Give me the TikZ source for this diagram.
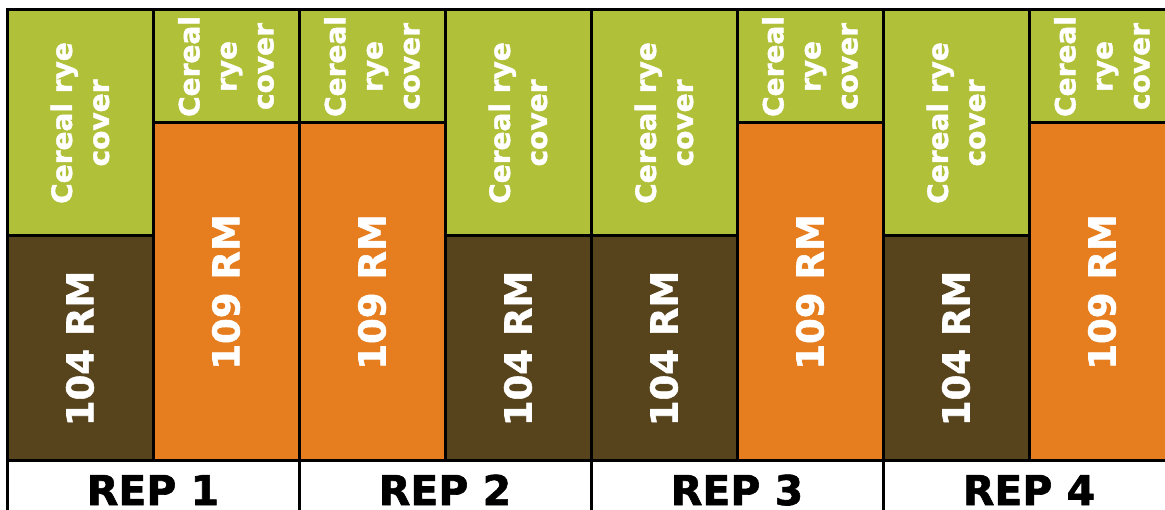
\documentclass[tikz,border=0pt]{standalone}
\usepackage{fontspec}
\setmainfont{DejaVu Sans}[BoldFeatures={FakeBold=1.5}]
\usetikzlibrary{positioning}

\definecolor{ryegreen}{RGB}{176,192,56}
\definecolor{lateorange}{RGB}{230,126,32}
\definecolor{earlybrown}{RGB}{88,68,28}

\tikzset{
  plot/.style={rectangle, draw=black, line width=3pt, anchor=north west,
    minimum width=146pt, inner sep=0, outer sep=0},
  ryetall/.style={plot, fill=ryegreen, minimum height=226pt},
  ryeshort/.style={plot, fill=ryegreen, minimum height=113pt},
  early/.style={plot, fill=earlybrown, minimum height=225pt},
  late/.style={plot, fill=lateorange, minimum height=338pt},
  repcell/.style={plot, fill=white, minimum width=292pt, minimum height=80pt},
  ryelabel/.style={rotate=90, text=white, align=center,
    font=\bfseries\fontsize{28}{37}\selectfont},
  croplabel/.style={rotate=90, text=white,
    font=\bfseries\fontsize{37}{44}\selectfont},
  replabel/.style={anchor=base, text=black,
    font=\bfseries\fontsize{41}{48}\selectfont}
}

\begin{document}
\begin{tikzpicture}[x=1pt, y=-1pt]
  \path[use as bounding box] (0,0) rectangle (1165,510);
  \clip (0,0) rectangle (1165,510);

  % cover crop strips
  \node[ryetall] (rye1) at (7,10) {};
  \node[ryeshort] (rye2) at (rye1.north east) {};
  \node[ryeshort] (rye3) at (rye2.north east) {};
  \node[ryetall] (rye4) at (rye3.north east) {};
  \node[ryetall] (rye5) at (rye4.north east) {};
  \node[ryeshort] (rye6) at (rye5.north east) {};
  \node[ryetall] (rye7) at (rye6.north east) {};
  \node[ryeshort] (rye8) at (rye7.north east) {};

  % maturity plots
  \node[early] (rm1) at (rye1.south west) {};
  \node[late] (rm2) at (rye2.south west) {};
  \node[late] (rm3) at (rye3.south west) {};
  \node[early] (rm4) at (rye4.south west) {};
  \node[early] (rm5) at (rye5.south west) {};
  \node[late] (rm6) at (rye6.south west) {};
  \node[early] (rm7) at (rye7.south west) {};
  \node[late] (rm8) at (rye8.south west) {};

  % replications
  \node[repcell] (rep1) at (rm1.south west) {};
  \node[repcell] (rep2) at (rm3.south west) {};
  \node[repcell] (rep3) at (rm5.south west) {};
  \node[repcell] (rep4) at (rm7.south west) {};

  % labels
  \node[ryelabel] at (rye1.center) {Cereal rye\\cover};
  \node[ryelabel] at (rye2.center) {Cereal\\rye\\cover};
  \node[ryelabel] at (rye3.center) {Cereal\\rye\\cover};
  \node[ryelabel] at (rye4.center) {Cereal rye\\cover};
  \node[ryelabel] at (rye5.center) {Cereal rye\\cover};
  \node[ryelabel] at (rye6.center) {Cereal\\rye\\cover};
  \node[ryelabel] at (rye7.center) {Cereal rye\\cover};
  \node[ryelabel] at (rye8.center) {Cereal\\rye\\cover};

  \node[croplabel] at (rm1.center) {104 RM};
  \node[croplabel] at (rm2.center) {109 RM};
  \node[croplabel] at (rm3.center) {109 RM};
  \node[croplabel] at (rm4.center) {104 RM};
  \node[croplabel] at (rm5.center) {104 RM};
  \node[croplabel] at (rm6.center) {109 RM};
  \node[croplabel] at (rm7.center) {104 RM};
  \node[croplabel] at (rm8.center) {109 RM};

  \node[replabel] at ([yshift=-44pt]rep1.north) {REP 1};
  \node[replabel] at ([yshift=-44pt]rep2.north) {REP 2};
  \node[replabel] at ([yshift=-44pt]rep3.north) {REP 3};
  \node[replabel] at ([yshift=-44pt]rep4.north) {REP 4};
\end{tikzpicture}
\end{document}
